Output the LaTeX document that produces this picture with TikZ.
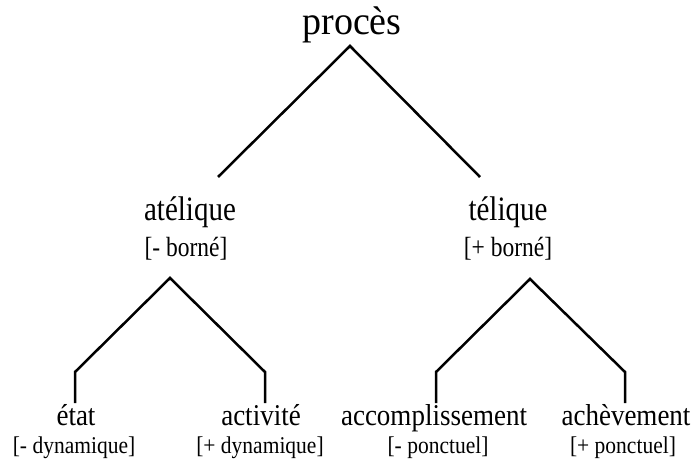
\documentclass[tikz,border=0pt]{standalone}
\usepackage{fontspec}
\setmainfont{Liberation Serif}
\usetikzlibrary{positioning}

\tikzset{
  branch/.style={line width=2.5pt, line cap=butt, line join=miter},
  label/.style={anchor=base, inner sep=0pt, transform shape},
  cat/.style={label, yscale=1.18, font=\fontsize{29}{31}\selectfont},
  feat/.style={label, yscale=1.18, font=\fontsize{23.5}{25}\selectfont},
  subcat/.style={label, yscale=1.12, font=\fontsize{27}{29}\selectfont},
  subfeat/.style={label, yscale=1.12, font=\fontsize{21.5}{23}\selectfont},
}

\begin{document}
\begin{tikzpicture}[x=1pt,y=-1pt]
  \useasboundingbox (0,0) rectangle (693,462);

  % racine
  \node[label, yscale=1.05, font=\fontsize{38}{40}\selectfont] (proces) at (352,35) {procès};

  % niveau 1
  \node[cat] (atel) at (190,221) {atélique};
  \node[feat] (atelF) at (186,257) {[- borné]};
  \node[cat] (tel) at (508,221) {télique};
  \node[feat] (telF) at (508,257) {[+ borné]};

  % niveau 2
  \node[subcat] (etat) at (76,425) {état};
  \node[subfeat] (etatF) at (74,453) {[- dynamique]};
  \node[subcat] (activ) at (261,425) {activité};
  \node[subfeat] (activF) at (260,453) {[+ dynamique]};
  \node[subcat] (accomp) at (434,425) {accomplissement};
  \node[subfeat] (accompF) at (438,453) {[- ponctuel]};
  \node[subcat] (achev) at (626,425) {achèvement};
  \node[subfeat] (achevF) at (623,453) {[+ ponctuel]};

  % branches
  \coordinate (r) at (350,46);
  \coordinate (rL) at (218,177);
  \coordinate (rR) at (480,177);
  \coordinate (a) at (170,278);
  \coordinate (aL) at (75,372);
  \coordinate (aLb) at (75,403);
  \coordinate (aR) at (265,372);
  \coordinate (aRb) at (265,403);
  \coordinate (t) at (530,279);
  \coordinate (tL) at (436,372);
  \coordinate (tLb) at (436,403);
  \coordinate (tR) at (625,372);
  \coordinate (tRb) at (625,403);

  \draw[branch] (rL) -- (r) -- (rR);
  \draw[branch] (aLb) -- (aL) -- (a) -- (aR) -- (aRb);
  \draw[branch] (tLb) -- (tL) -- (t) -- (tR) -- (tRb);
\end{tikzpicture}
\end{document}
